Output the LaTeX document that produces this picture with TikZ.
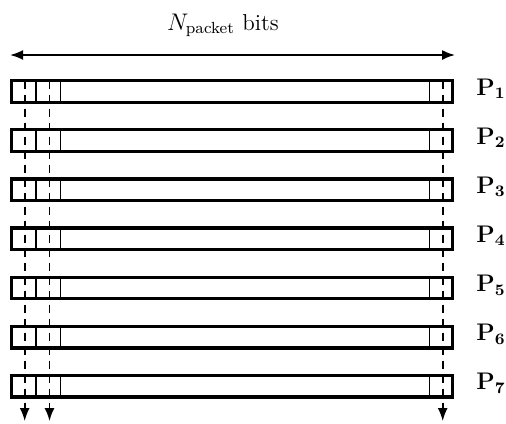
\documentclass[tikz,border=0pt]{standalone}
\usepackage{amsmath}
\usetikzlibrary{arrows.meta}

\begin{document}
\begin{tikzpicture}[x=0.5pt, y=-0.5pt, >={Latex[length=6.5pt, width=5pt]},
  font=\fontsize{11.5}{14}\selectfont,
  packet/.style={draw, line width=1.6pt, fill=white, minimum width=220.4pt,
    minimum height=10.8pt, inner sep=0pt},
  cell/.style={line width=0.6pt},
  trace/.style={->, dashed, line width=0.8pt, dash pattern=on 4pt off 3pt}]
  \useasboundingbox (0,0) rectangle (506,423);
  % packet length
  \coordinate (a) at (10,55);
  \coordinate (b) at (455,55);
  \draw[<->, line width=0.9pt] (a) -- (b);
  \node[anchor=base] (len) at (223,30) {$N_{\text{packet}}$ bits};
  % packets
  \foreach \i in {1,...,7} {
    \pgfmathsetmacro{\y}{91.5+49.13*(\i-1)}
    \node[packet] (p\i) at (232,\y) {};
    \draw[cell] (36,\y-10.8) -- (36,\y+10.8);
    \draw[cell] (60.5,\y-10.8) -- (60.5,\y+10.8);
    \draw[cell] (429.3,\y-10.8) -- (429.3,\y+10.8);
    \node[anchor=base] (l\i) at (491,\y+3.5) {$\mathbf{P_{\i}}$};
  }
  % bit positions
  \foreach \x [count=\k] in {24.7,49.5,442.7} {
    \coordinate (s\k) at (\x,80.7);
    \coordinate (e\k) at (\x,421);
    \draw[trace] (s\k) -- (e\k);
  }
\end{tikzpicture}
\end{document}
